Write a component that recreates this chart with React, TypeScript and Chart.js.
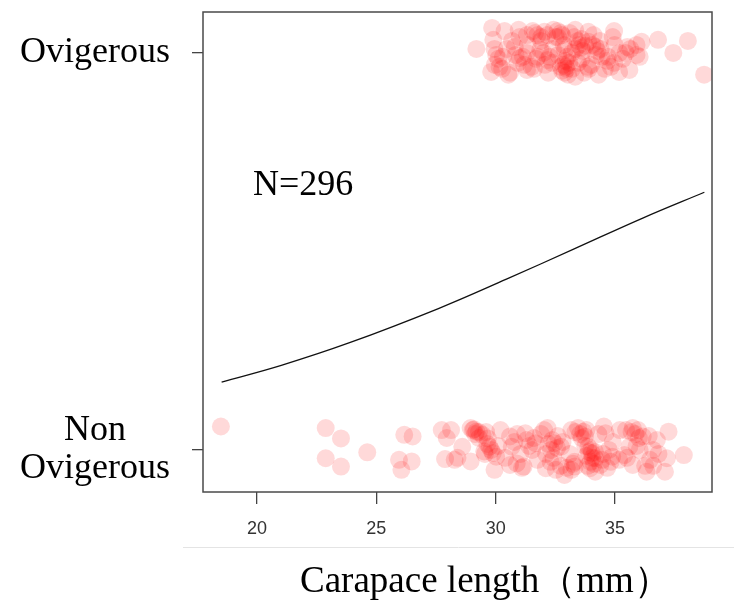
import React, { useEffect, useRef } from 'react';
import { Chart, registerables } from 'chart.js';

Chart.register(...registerables);

// ---- axes ----
const X_MIN = 17.74;
const X_MAX = 39.06;
const Y_MIN = -0.106;
const Y_MAX = 1.103;
const X_TICKS = [20, 25, 30, 35];
const Y_TICKS = [0, 1];
const Y_LABELS: (string | string[])[] = [['Non', 'Ovigerous'], 'Ovigerous'];
const X_TITLE = 'Carapace length（mm）';
const NOTE_TEXT = 'N=296';
const NOTE_X = 19.83;
const NOTE_Y = 0.667;

// ---- fitted logistic curve ----
const CURVE_X = [18.52, 21.02, 23.88, 27.60, 30.45, 33.31, 36.16, 38.74];
const CURVE_Y = [0.171, 0.213, 0.270, 0.356, 0.430, 0.507, 0.584, 0.649];

// ---- Ovigerous (jittered around 1) ----
const OVI_X = [
  29.19, 29.85, 29.90, 30.37, 30.96, 31.31, 31.65, 32.04, 32.59, 33.33, 33.88, 34.96,
  30.02, 30.16, 29.81, 30.53, 31.01, 31.31, 31.87, 32.17, 32.73, 32.90, 32.94, 33.33,
  33.58, 33.88, 34.19, 34.44, 34.31, 34.96, 35.17, 35.51, 35.90, 36.11, 36.03, 35.60,
  36.80, 37.44, 38.05, 38.73,
  32.83, 32.98, 32.78, 33.08, 32.88, 32.73, 33.03, 32.93,
  33.49, 33.65, 33.44, 33.75, 33.59, 33.34,
  31.75, 31.91, 31.55, 32.16,
  30.93, 31.14, 30.83, 31.19,
  34.05, 34.26, 34.36, 34.21,
  32.52, 32.78, 32.42,
  32.26, 32.06, 32.37,
  30.11, 30.27, 29.96,
  34.67, 34.82, 34.57,
  33.85, 33.70, 34.00,
  35.44, 35.64, 35.33,
  31.50, 31.70, 30.68, 30.47, 33.19, 33.29, 34.98, 35.18, 31.34, 32.62,
  31.00, 31.30, 31.60, 31.90, 32.20, 32.40, 32.60, 33.00, 33.20, 33.60, 33.90, 34.10, 34.40,
  34.70, 30.60, 30.30, 29.95, 32.00, 32.85, 33.45, 34.90, 31.75, 30.80, 33.10, 35.90,
];
const OVI_Y = [
  1.010, 1.063, 1.033, 1.055, 1.058, 1.045, 1.050, 1.053, 1.055, 1.058, 1.053, 1.055,
  0.995, 0.965, 0.952, 0.945, 0.987, 0.957, 1.008, 0.982, 1.050, 1.008, 0.965, 0.940,
  1.013, 1.028, 1.015, 0.990, 0.945, 0.975, 0.952, 1.015, 1.020, 1.028, 0.990, 0.957,
  1.033, 1.000, 1.030, 0.945,
  0.970, 0.960, 0.955, 0.975, 0.950, 0.965, 0.945, 0.980,
  1.020, 1.005, 1.030, 1.018, 1.035, 1.010,
  1.045, 1.040, 1.055, 1.045,
  0.975, 0.990, 0.995, 0.970,
  1.020, 1.005, 1.030, 0.995,
  1.040, 1.045, 1.058,
  0.990, 0.970, 0.975,
  0.985, 0.960, 0.970,
  0.980, 0.965, 0.960,
  0.965, 0.950, 0.970,
  1.000, 1.010, 0.985,
  0.965, 0.985, 1.030, 1.010, 1.000, 1.040, 1.020, 1.000, 1.020, 0.995,
  1.040, 1.000, 0.960, 1.030, 0.950, 1.010, 1.040, 0.990, 0.960, 0.985, 0.960, 1.045, 1.010,
  0.990, 0.950, 0.990, 1.010, 1.000, 1.020, 0.975, 1.040, 0.990, 1.015, 1.050, 0.995,
];

// ---- Non Ovigerous (jittered around 0) ----
const NON_X = [
  18.49, 22.88, 23.52, 22.88, 23.52, 24.62, 26.17, 26.52, 25.95, 26.48, 26.05,
  27.74, 28.13, 27.88, 28.28, 28.95, 29.09, 29.19, 28.60, 28.95, 29.45, 29.67, 29.74, 29.52, 29.88, 30.02, 29.95,
  30.60, 30.67, 30.60, 30.88, 31.17, 31.24, 31.53, 31.67, 32.03, 32.17, 32.10, 32.46, 32.32, 32.74, 32.52, 32.88,
  33.17, 33.45, 33.67, 33.31, 33.17, 33.74, 33.88, 34.02, 34.17, 33.95, 34.38, 34.17, 34.53, 34.60, 34.74, 34.88,
  35.46, 35.74, 35.96, 36.16, 35.60, 35.39, 35.74, 36.32, 36.59, 36.03, 36.75, 37.09, 37.17, 37.24, 37.88, 35.17, 36.46,
  33.90, 34.05, 33.97, 33.80, 34.16, 33.85, 34.11, 33.75,
  29.04, 29.14, 29.30,
  29.65, 29.81, 29.55,
  32.21, 32.37, 32.57, 32.11, 32.42,
  33.34, 33.54, 33.80,
  35.69, 35.85, 36.00,
  34.67, 34.46, 34.82,
  32.98, 33.24, 32.72,
  30.78, 31.04, 31.29,
  36.41, 36.82, 36.26,
  31.75, 31.60,
  29.30, 29.60, 30.10, 30.40, 30.90, 31.40, 31.90, 32.30, 32.80, 33.10, 33.60, 34.00, 34.30,
  34.90, 35.20, 35.50, 35.90, 36.60, 28.40, 27.95, 33.30, 34.50, 32.60, 31.10, 30.20,
];
const NON_Y = [
  0.059, 0.055, 0.029, -0.021, -0.042, -0.006, 0.038, 0.034, -0.025, -0.029, -0.050,
  0.050, 0.050, -0.023, -0.025, 0.055, 0.052, 0.046, 0.008, -0.029, 0.038, 0.029, 0.008, -0.004, -0.008, -0.017, -0.050,
  0.034, 0.008, -0.038, -0.034, -0.042, 0.042, 0.000, 0.017, 0.050, 0.055, -0.046, 0.017, 0.000, 0.008, -0.050, -0.063,
  0.050, 0.055, 0.046, -0.042, -0.050, 0.034, 0.008, -0.008, -0.021, -0.046, -0.038, -0.055, 0.059, 0.042, 0.000, -0.017,
  0.050, 0.055, 0.050, 0.034, 0.008, -0.013, -0.038, -0.055, 0.000, 0.000, 0.025, -0.055, -0.021, 0.046, -0.013, -0.025, -0.025,
  -0.005, -0.020, -0.030, -0.015, -0.005, -0.040, -0.035, 0.010,
  0.050, 0.040, 0.045,
  0.015, 0.000, -0.010,
  0.015, 0.025, 0.005, -0.010, -0.020,
  0.045, 0.040, 0.050,
  0.045, 0.040, 0.030,
  -0.045, -0.025, -0.030,
  -0.045, -0.035, -0.040,
  0.020, -0.010, 0.025,
  0.035, -0.010, -0.040,
  -0.025, 0.030,
  0.030, 0.045, 0.010, -0.020, 0.040, 0.010, 0.040, -0.030, 0.020, -0.010, 0.030, 0.000, 0.040,
  0.020, 0.050, -0.020, 0.010, -0.040, -0.020, 0.030, -0.030, -0.010, 0.035, -0.045, 0.050,
];

const SERIF = '"Liberation Serif", "Times New Roman", serif';
const SANS = '"Liberation Sans", Arial, sans-serif';
const POINT_COLOR = 'rgba(255, 0, 0, 0.15)';

const decorPlugin = {
  id: 'decor',
  afterDatasetsDraw(chart: any) {
    const { ctx, chartArea: a, scales } = chart;
    ctx.save();
    // plot box
    ctx.strokeStyle = '#4a4a4a';
    ctx.lineWidth = 1.5;
    ctx.strokeRect(a.left, a.top, a.right - a.left, a.bottom - a.top);
    // N annotation
    ctx.fillStyle = '#000';
    ctx.font = `36px ${SERIF}`;
    ctx.textAlign = 'left';
    ctx.textBaseline = 'middle';
    ctx.fillText(NOTE_TEXT, scales.x.getPixelForValue(NOTE_X), scales.y.getPixelForValue(NOTE_Y));
    // x-axis title
    ctx.font = `37px ${SERIF}`;
    ctx.fillText(X_TITLE, a.left + 97, a.bottom + 90);
    // faint separator line below tick labels
    ctx.strokeStyle = '#e4e4e4';
    ctx.lineWidth = 1;
    ctx.beginPath();
    ctx.moveTo(a.left - 20, a.bottom + 55.5);
    ctx.lineTo(chart.width, a.bottom + 55.5);
    ctx.stroke();
    ctx.restore();
  },
};

export default function App() {
  const ref = useRef<HTMLCanvasElement | null>(null);

  useEffect(() => {
    if (!ref.current) return;
    const chart = new Chart(ref.current, {
      type: 'scatter',
      data: {
        datasets: [
          {
            label: 'Non Ovigerous',
            data: NON_X.map((x, i) => ({ x, y: NON_Y[i] })),
            backgroundColor: POINT_COLOR,
            borderWidth: 0,
            pointRadius: 9,
            pointHoverRadius: 9,
          },
          {
            label: 'Ovigerous',
            data: OVI_X.map((x, i) => ({ x, y: OVI_Y[i] })),
            backgroundColor: POINT_COLOR,
            borderWidth: 0,
            pointRadius: 9,
            pointHoverRadius: 9,
          },
          {
            label: 'Fitted',
            data: CURVE_X.map((x, i) => ({ x, y: CURVE_Y[i] })),
            showLine: true,
            borderColor: '#111',
            borderWidth: 1.3,
            pointRadius: 0,
            tension: 0.4,
            fill: false,
          } as any,
        ],
      },
      options: {
        animation: false,
        responsive: false,
        devicePixelRatio: 1,
        layout: { padding: { top: 12, right: 22, left: 0, bottom: 0 } },
        plugins: { legend: { display: false }, tooltip: { enabled: false } },
        scales: {
          x: {
            type: 'linear',
            min: X_MIN,
            max: X_MAX,
            afterBuildTicks: (s: any) => {
              s.ticks = X_TICKS.map((v) => ({ value: v }));
            },
            afterFit: (s: any) => {
              s.height = 119;
              s.paddingLeft = 0;
              s.paddingRight = 0;
            },
            border: { display: false },
            grid: { drawOnChartArea: false, drawTicks: true, tickLength: 12, color: '#444', lineWidth: 1.3 },
            ticks: { font: { family: SANS, size: 18 }, color: '#333', padding: 14, maxRotation: 0 },
          },
          y: {
            type: 'linear',
            min: Y_MIN,
            max: Y_MAX,
            afterBuildTicks: (s: any) => {
              s.ticks = Y_TICKS.map((v) => ({ value: v }));
            },
            afterFit: (s: any) => {
              s.width = 203;
              s.paddingTop = 0;
              s.paddingBottom = 0;
            },
            border: { display: false },
            grid: { drawOnChartArea: false, drawTicks: true, tickLength: 11, color: '#444', lineWidth: 1.3 },
            ticks: {
              callback: (_v: any, i: number) => Y_LABELS[i],
              font: { family: SERIF, size: 36, lineHeight: 1.05 },
              color: '#000',
              crossAlign: 'center',
              padding: 22,
            },
          },
        },
      },
      plugins: [decorPlugin],
    } as any);
    return () => chart.destroy();
  }, []);

  return (
    <div style={{ position: 'absolute', left: 0, top: 0, width: 734, height: 611, background: '#fff' }}>
      <canvas ref={ref} width={734} height={611} style={{ display: 'block', width: 734, height: 611 }} />
    </div>
  );
}
